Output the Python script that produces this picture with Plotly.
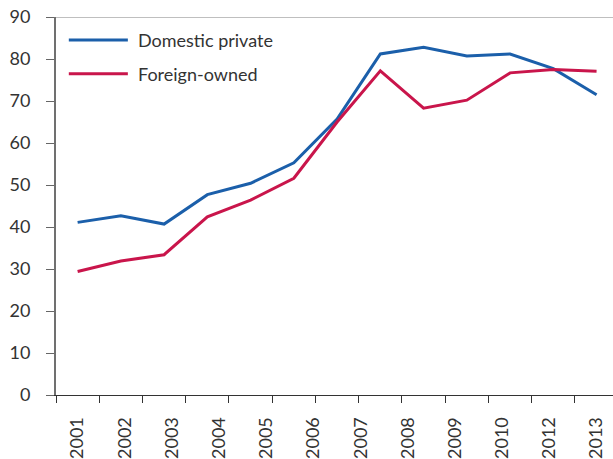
import plotly.graph_objects as go

# 13 observations, but the source chart only prints 12 year labels
periods = list(range(13))
year_labels = ["2001", "2002", "2003", "2004", "2005", "2006", "2007",
               "2008", "2009", "2010", "2012", "2013"]

domestic_private = [41.1, 42.7, 40.7, 47.7, 50.4, 55.3, 65.7,
                    81.2, 82.8, 80.7, 81.2, 77.7, 71.5]
foreign_owned = [29.4, 31.9, 33.4, 42.4, 46.4, 51.6, 65.0,
                 77.2, 68.3, 70.2, 76.7, 77.5, 77.1]

y_ticks = [0, 10, 20, 30, 40, 50, 60, 70, 80, 90]

BLUE = "#1b5faa"
RED = "#c9154b"
TEXT = "#333333"
FONT = "Lato"

fig = go.Figure()

fig.add_trace(
    go.Scatter(
        x=periods,
        y=domestic_private,
        name="Domestic private",
        mode="lines",
        line=dict(color=BLUE, width=3),
    )
)

fig.add_trace(
    go.Scatter(
        x=periods,
        y=foreign_owned,
        name="Foreign-owned",
        mode="lines",
        line=dict(color=RED, width=3),
    )
)

x_range = [-0.5, 12.38]
boundaries = [p - 0.5 for p in periods]
label_pos = [i * (len(periods) - 1) / (len(year_labels) - 1) for i in range(len(year_labels))]

fig.update_layout(
    width=613,
    height=459,
    margin=dict(l=56, r=0, t=17, b=64),
    plot_bgcolor="white",
    paper_bgcolor="white",
    showlegend=False,
    font=dict(family=FONT, size=18, color=TEXT),
    xaxis=dict(
        range=x_range,
        tickmode="array",
        tickvals=boundaries,
        showticklabels=False,
        ticks="outside",
        ticklen=7,
        tickcolor="#333333",
        showline=True,
        linecolor="#333333",
        linewidth=1,
        showgrid=False,
        zeroline=False,
        automargin=False,
    ),
    xaxis2=dict(
        overlaying="x",
        side="bottom",
        anchor="y",
        range=x_range,
        tickmode="array",
        tickvals=label_pos,
        ticktext=year_labels,
        tickangle=-90,
        ticks="outside",
        ticklen=14,
        tickcolor="rgba(0,0,0,0)",
        showline=False,
        showgrid=False,
        zeroline=False,
        automargin=False,
        tickfont=dict(family=FONT, size=18, color=TEXT),
    ),
    yaxis=dict(
        range=[0, 90],
        tickmode="array",
        tickvals=y_ticks,
        ticks="outside",
        ticklen=8,
        tickcolor="#666666",
        ticklabelstandoff=12,
        showline=True,
        linecolor="#707070",
        linewidth=2,
        showgrid=False,
        zeroline=False,
        automargin=False,
        tickfont=dict(family=FONT, size=18, color=TEXT),
    ),
)

# dummy trace so xaxis2 gets drawn
fig.add_trace(go.Scatter(x=[], y=[], xaxis="x2", showlegend=False, hoverinfo="skip"))

# top frame line at 90
fig.add_shape(type="line", xref="paper", yref="y", x0=0, x1=1, y0=90, y1=90,
              line=dict(color="#aaaaaa", width=1.5))

# hand-drawn legend (longer line samples than plotly's own legend)
for i, tr in enumerate(fig.data[:2]):
    yy = 0.939 - i * 0.089
    fig.add_shape(type="line", xref="paper", yref="paper",
                  x0=0.023, x1=0.129, y0=yy, y1=yy,
                  line=dict(color=tr.line.color, width=3))
    fig.add_annotation(text=tr.name, xref="paper", yref="paper",
                       x=0.143, y=yy, xanchor="left", yanchor="middle",
                       showarrow=False, font=dict(family=FONT, size=18, color=TEXT))

# drop the browser's default body margin so the figure sits at the page corner
fig.write_html("out.html", config={"displayModeBar": False},
               post_script="document.body.style.margin='0px';")
